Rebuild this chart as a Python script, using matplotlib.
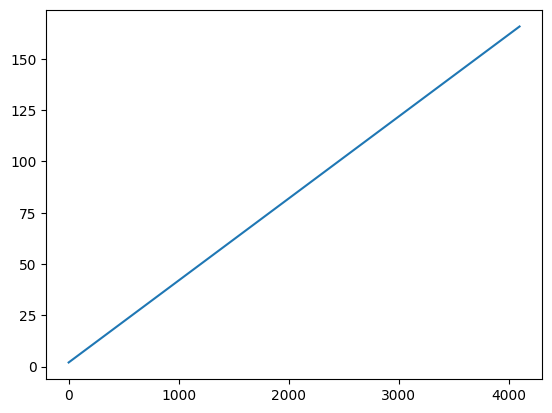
import matplotlib
matplotlib.use("Agg")
import matplotlib.pyplot as plt

x_values = [0, 4096]
y_values = [2.0, 165.8]

fig, ax = plt.subplots(figsize=(6.4, 4.8), dpi=100)
ax.plot(x_values, y_values)
fig.savefig("out.png", bbox_inches="tight")
